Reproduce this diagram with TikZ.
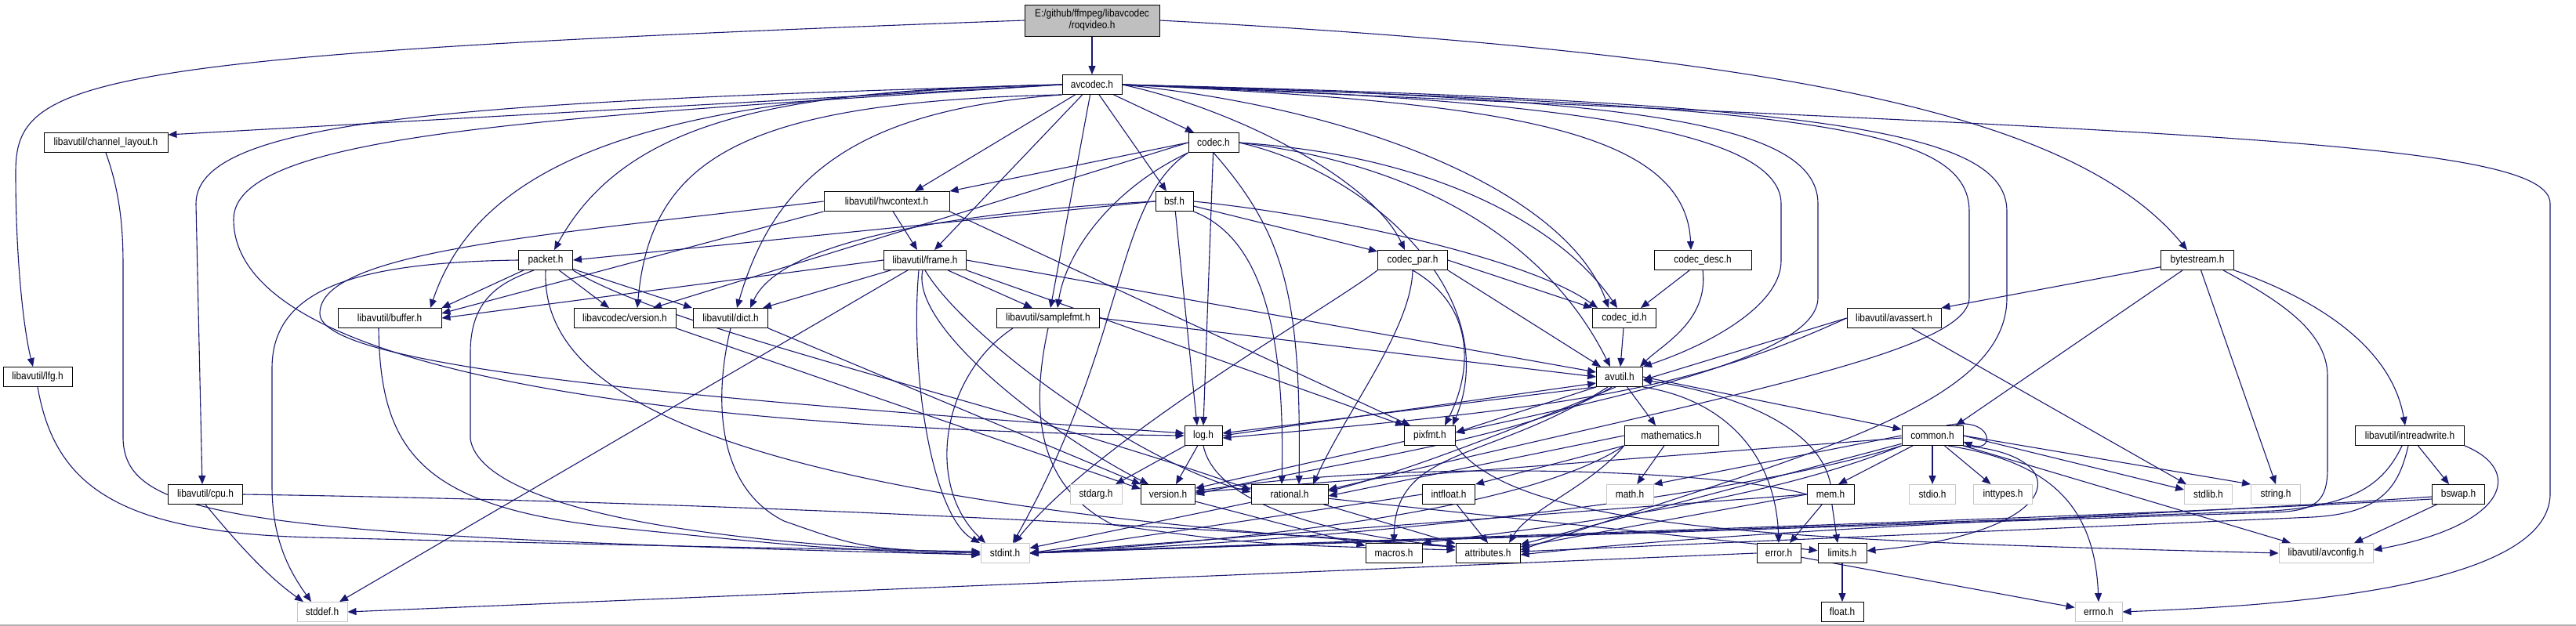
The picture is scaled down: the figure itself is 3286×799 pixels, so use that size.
\documentclass[tikz,border=0pt]{standalone}
\usepackage{fontspec}
\setmainfont{Liberation Sans}[FakeStretch=0.88]
\usetikzlibrary{arrows.meta}
\pgfdeclarelayer{background}
\pgfdeclarelayer{edges}
\pgfsetlayers{background,edges,main}
\definecolor{edgec}{HTML}{191970}
\definecolor{rootfill}{HTML}{BFBFBF}
\tikzset{
  box/.style={draw=black, line width=0.9pt, fill=white, minimum height=25pt, inner sep=0pt, font=\fontsize{13.5}{15}\selectfont},
  ext/.style={box, draw=black!22},
  rootbox/.style={box, fill=rootfill, minimum height=40pt, align=center},
  e/.style={draw=edgec, line width=1.1pt, -{Triangle[length=11pt,width=9pt]}},
}
\begin{document}
\begin{tikzpicture}[x=1pt,y=-1pt]
\useasboundingbox (0,0) rectangle (3286,799);
% nodes
\node[rootbox, minimum width=172pt] (root) at (1393,26) {E:/github/ffmpeg/libavcodec\\/roqvideo.h};
\node[box, minimum width=76pt] (avcodec) at (1393,108) {avcodec.h};
\node[box, minimum width=158pt] (chl) at (135,182) {libavutil/channel\_layout.h};
\node[box, minimum width=64pt] (codec) at (1548,182) {codec.h};
\node[box, minimum width=160pt] (hwc) at (1131,257) {libavutil/hwcontext.h};
\node[box, minimum width=48pt] (bsf) at (1498,257) {bsf.h};
\node[box, minimum width=69pt] (packet) at (696,332) {packet.h};
\node[box, minimum width=105pt] (frame) at (1180,332) {libavutil/frame.h};
\node[box, minimum width=89pt] (cpar) at (1802,332) {codec\_par.h};
\node[box, minimum width=124pt] (cdesc) at (2172,332) {codec\_desc.h};
\node[box, minimum width=93pt] (bytes) at (2803,332) {bytestream.h};
\node[box, minimum width=132pt] (buffer) at (497,406) {libavutil/buffer.h};
\node[box, minimum width=130pt] (lcver) at (797,406) {libavcodec/version.h};
\node[box, minimum width=95pt] (dict) at (932,406) {libavutil/dict.h};
\node[box, minimum width=131pt] (sfmt) at (1337,406) {libavutil/samplefmt.h};
\node[box, minimum width=81pt] (cid) at (2072,406) {codec\_id.h};
\node[box, minimum width=120pt] (avassert) at (2416,406) {libavutil/avassert.h};
\node[box, minimum width=88pt] (lfg) at (48,481) {libavutil/lfg.h};
\node[box, minimum width=59pt] (avutil) at (2066,481) {avutil.h};
\node[box, minimum width=48pt] (log) at (1535,556) {log.h};
\node[box, minimum width=65pt] (pixfmt) at (1824,556) {pixfmt.h};
\node[box, minimum width=120pt] (mathh) at (2132,556) {mathematics.h};
\node[box, minimum width=78pt] (common) at (2465,556) {common.h};
\node[box, minimum width=139pt] (irw) at (3074,556) {libavutil/intreadwrite.h};
\node[box, minimum width=95pt] (cpu) at (262,631) {libavutil/cpu.h};
\node[ext, minimum width=66pt] (stdarg) at (1398,631) {stdarg.h};
\node[box, minimum width=69pt] (version) at (1490,631) {version.h};
\node[box, minimum width=98pt] (rational) at (1645,631) {rational.h};
\node[box, minimum width=67pt] (intfloat) at (1848,631) {intfloat.h};
\node[ext, minimum width=60pt] (math) at (2079,631) {math.h};
\node[box, minimum width=60pt] (mem) at (2335,631) {mem.h};
\node[ext, minimum width=59pt] (stdio) at (2465,631) {stdio.h};
\node[ext, minimum width=75pt] (inttypes) at (2555,631) {inttypes.h};
\node[ext, minimum width=61pt] (stdlib) at (2817,631) {stdlib.h};
\node[ext, minimum width=63pt] (string) at (2903,631) {string.h};
\node[box, minimum width=67pt] (bswap) at (3136,631) {bswap.h};
\node[ext, minimum width=62pt] (stdint) at (1282,706) {stdint.h};
\node[box, minimum width=72pt] (macros) at (1778,706) {macros.h};
\node[box, minimum width=82pt] (attributes) at (1898,706) {attributes.h};
\node[box, minimum width=56pt] (error) at (2269,706) {error.h};
\node[box, minimum width=62pt] (limits) at (2350,706) {limits.h};
\node[ext, minimum width=120pt] (avconfig) at (2967,706) {libavutil/avconfig.h};
\node[ext, minimum width=64pt] (stddef) at (411,781) {stddef.h};
\node[box, minimum width=54pt] (float) at (2350,781) {float.h};
\node[ext, minimum width=60pt] (errno) at (2677,781) {errno.h};

\begin{pgfonlayer}{background}
\fill[white] (0,0) rectangle (3286,799);
\draw[black!30, line width=1.2pt] (0,798) -- (3286,798);
\end{pgfonlayer}

\begin{pgfonlayer}{edges}
% root
\draw[e] (root) -- (avcodec);
\draw[e] (root.west) .. controls (100,70) and (20,100) .. (20,220) .. controls (20,330) and (30,420) .. ([xshift=-6pt]lfg.north);
\draw[e] (root.east) .. controls (2300,70) and (2650,150) .. ([xshift=-13pt]bytes.north);
% avcodec
\draw[e] (avcodec.east) .. controls (2800,170) and (3253,180) .. (3253,260) -- (3253,630) .. controls (3253,760) and (2850,775) .. (errno.east);
\draw[e] (avcodec.west) -- ([yshift=10pt]chl.east);
\draw[e] (avcodec.west) .. controls (600,130) and (250,150) .. (250,260) -- ([xshift=-4pt]cpu.north);
\draw[e] (avcodec.west) .. controls (700,150) and (298,170) .. (298,280) .. controls (298,500) and (1000,550) .. (log.west);
\draw[e] (avcodec.west) .. controls (1000,115) and (800,150) .. ([xshift=11pt]packet.north);
\draw[e] (avcodec.west) .. controls (900,120) and (620,180) .. ([xshift=52pt]buffer.north);
\draw[e] (avcodec.south west) .. controls (950,130) and (830,200) .. ([xshift=16pt]lcver.north);
\draw[e] (avcodec.south west) .. controls (1100,140) and (990,220) .. ([xshift=8pt]dict.north);
\draw[e] (avcodec) -- ([xshift=36pt]hwc.north);
\draw[e] (avcodec) -- ([xshift=12pt]frame.north);
\draw[e] (avcodec) -- ([xshift=3pt]sfmt.north);
\draw[e] (avcodec) -- ([xshift=-10pt]bsf.north);
\draw[e] (avcodec) -- ([xshift=-25pt]codec.north);
\draw[e] (avcodec.east) .. controls (1580,140) and (1750,230) .. ([xshift=-10pt]cpar.north);
\draw[e] (avcodec.east) .. controls (1900,130) and (2150,160) .. ([xshift=-15pt]cdesc.north);
\draw[e] (avcodec.east) .. controls (1750,140) and (2000,250) .. ([xshift=-20pt]cid.north);
\draw[e] (avcodec.east) .. controls (1950,125) and (2272,160) .. (2272,260) -- (2272,333) .. controls (2272,390) and (2180,440) .. (avutil.north east);
\draw[e] (avcodec.east) .. controls (2050,125) and (2319,150) .. (2319,260) -- (2319,380) .. controls (2319,450) and (2100,500) .. ([yshift=4pt]pixfmt.east);
\draw[e] (avcodec.east) .. controls (2300,135) and (2512,160) .. (2512,270) -- (2512,380) .. controls (2512,450) and (2200,505) .. ([yshift=6pt]rational.east);
\draw[e] (avcodec.east) .. controls (2350,130) and (2560,170) .. (2560,270) -- (2560,380) .. controls (2560,520) and (2300,580) .. ([yshift=4pt]attributes.east);
% codec
\draw[e] (codec.west) -- (hwc.north east);
\draw[e] (codec.west) -- ([xshift=36pt]lcver.north);
\draw[e] (codec.south west) .. controls (1420,240) and (1360,320) .. ([xshift=12pt]sfmt.north);
\draw[e] (codec.south west) .. controls (1420,260) and (1440,430) .. ([xshift=10pt]stdint.north);
\draw[e] (codec) -- (log.north);
\draw[e] (codec.south) .. controls (1640,300) and (1660,380) .. ([xshift=12pt]rational.north);
\draw[e] (codec.east) .. controls (1750,220) and (1920,380) .. ([xshift=29pt]pixfmt.north);
\draw[e] (codec.east) .. controls (1850,200) and (2000,300) .. ([xshift=-9pt]cid.north);
\draw[e] (codec.east) .. controls (1900,220) and (2010,380) .. ([xshift=-12pt]avutil.north);
% bsf
\draw[e] (bsf.west) -- (packet.east);
\draw[e] (bsf.west) .. controls (1150,275) and (990,320) .. ([xshift=25pt]dict.north);
\draw[e] (bsf) -- ([xshift=-8pt]log.north);
\draw[e] (bsf.south east) .. controls (1600,300) and (1640,400) .. ([xshift=-10pt]rational.north);
\draw[e] (bsf) -- (cpar);
\draw[e] (bsf.east) .. controls (1700,275) and (1950,330) .. ([xshift=-34pt]cid.north);
% codec_par
\draw[e] (cpar.south west) .. controls (1700,390) and (1400,560) .. ([xshift=12pt]stdint.north);
\draw[e] (cpar.south east) -- ([xshift=-24pt]avutil.north);
\draw[e] (cpar.south) .. controls (1800,420) and (1720,520) .. ([xshift=30pt]rational.north);
\draw[e] (cpar.south) .. controls (1880,390) and (1880,470) .. ([xshift=19pt]pixfmt.north);
\draw[e] (cpar.east) -- (cid.north west);
% codec_desc, codec_id
\draw[e] (cdesc) -- ([xshift=21pt]cid.north);
\draw[e] (cdesc.south) .. controls (2180,410) and (2120,440) .. ([xshift=26pt]avutil.north);
\draw[e] (cid) -- (avutil);
% packet
\draw[e] (packet.west) .. controls (450,335) and (347,370) .. (347,470) -- (347,620) .. controls (347,690) and (370,730) .. ([xshift=-14pt]stddef.north);
\draw[e] ([xshift=-15pt]packet.south) .. controls (640,360) and (600,380) .. (600,450) -- (600,560) .. controls (610,630) and (800,690) .. (stdint.west);
\draw[e] (packet) -- (buffer.north east);
\draw[e] (packet.south) .. controls (690,500) and (900,640) .. ([yshift=8pt]attributes.west);
\draw[e] (packet) -- ([xshift=-49pt]dict.north);
\draw[e] (packet.south east) .. controls (850,420) and (1300,520) .. ([yshift=6pt]rational.west);
\draw[e] (packet) -- ([xshift=-20pt]lcver.north);
% hwcontext
\draw[e] (hwc.south west) -- ([yshift=6pt]buffer.east);
\draw[e] (hwc) -- ([xshift=-10pt]frame.north);
\draw[e] (hwc.west) .. controls (700,300) and (408,320) .. (408,400) .. controls (408,470) and (900,510) .. ([yshift=3pt]log.west);
\draw[e] (hwc.south east) -- ([xshift=-25pt]pixfmt.north);
% frame
\draw[e] (frame) -- ([xshift=22pt]stddef.north);
\draw[e] ([xshift=-8pt]frame.south) .. controls (1160,480) and (1190,660) .. ([xshift=-32pt]stdint.north);
\draw[e] (frame.east) -- ([yshift=6pt]avutil.west);
\draw[e] (frame.west) -- (buffer.east);
\draw[e] (frame) -- ([xshift=41pt]dict.north);
\draw[e] (frame.south) .. controls (1230,430) and (1450,590) .. ([yshift=3pt]rational.west);
\draw[e] (frame) -- ([xshift=-20pt]sfmt.north);
\draw[e] (frame.south east) -- (pixfmt.north west);
\draw[e] ([xshift=-3pt]frame.south) .. controls (1160,420) and (1350,560) .. ([xshift=10pt]version.north west);
% samplefmt
\draw[e] ([xshift=-45pt]sfmt.south) .. controls (1200,480) and (1180,620) .. ([xshift=-25pt]stdint.north);
\draw[e] (sfmt.east) -- (avutil.west);
\draw[e] (sfmt.south) .. controls (1315,520) and (1320,620) .. (1420,670) .. controls (1600,695) .. ([yshift=4pt]attributes.west);
% buffer, dict, lcver
\draw[e] ([xshift=-14pt]buffer.south) .. controls (485,580) and (540,650) .. (800,675) .. controls (1050,700) .. ([yshift=-2pt]stdint.west);
\draw[e] (dict.south) .. controls (912,500) and (910,620) .. (1000,665) .. controls (1100,700) .. (stdint.west);
\draw[e] (dict.south east) -- (version.north west);
\draw[e] (lcver.south east) -- ([yshift=-6pt]version.north west);
% log
\draw[e] (log) -- ([xshift=25pt]stdarg.north);
\draw[e] (log) -- ([xshift=10pt]version.north);
\draw[e] (log.south) .. controls (1550,640) and (1680,680) .. ([yshift=8pt]attributes.west);
\draw[e] (log.east) -- ([yshift=-8pt]avutil.west);
% avutil
\draw[e] (avutil.south west) -- ([yshift=3pt]log.east);
\draw[e] (avutil.south west) -- ([yshift=4pt]pixfmt.east);
\draw[e] (avutil) -- ([xshift=-20pt]mathh.north);
\draw[e] ([xshift=-10pt]avutil.south) .. controls (1950,560) and (1700,590) .. (version.east);
\draw[e] ([xshift=-5pt]avutil.south) .. controls (1950,540) and (1800,600) .. ([yshift=4pt]rational.east);
\draw[e] ([xshift=-15pt]avutil.south) .. controls (1900,590) and (1780,570) .. (macros.north);
\draw[e] (avutil.south east) .. controls (2200,510) and (2265,580) .. (error.north);
\draw[e] (avutil.east) -- ([yshift=8pt]common.west);
% mathematics
\draw[e] (mathh) -- (math);
\draw[e] (mathh.south west) .. controls (2030,620) and (1950,650) .. ([xshift=27pt]attributes.north);
\draw[e] (mathh.west) -- ([yshift=-2pt]rational.east);
\draw[e] (mathh.south west) .. controls (1950,650) and (1600,690) .. (stdint.east);
\draw[e] (mathh.south west) -- (intfloat.north east);
% common
\draw[e] (common) -- ([xshift=10pt]mem.north);
\draw[e] (common) -- (stdio);
\draw[e] (common) -- (inttypes);
\draw[e] ([xshift=20pt]common.south) .. controls (2620,590) and (2672,650) .. (errno.north);
\draw[e] (common.south east) .. controls (2650,580) and (2640,680) .. ([yshift=3pt]limits.east);
\draw[e] (common.west) -- (math.north east);
\draw[e] (common.south west) .. controls (2200,640) and (1700,690) .. (stdint.east);
\draw[e] (common.east) -- ([yshift=6pt]stdlib.west);
\draw[e] (common.east) -- (string.north west);
\draw[e] (common.south east) -- ([xshift=-45pt]avconfig.north);
\draw[e] (common) -- (attributes);
\draw[e] (common.south west) .. controls (2250,640) and (2000,670) .. (macros.north east);
\draw[e] (common) -- (version);
\draw[e] ([xshift=18pt]common.north) .. controls (2545,530) and (2545,580) .. ([yshift=-8pt]common.east);
% mem
\draw[e] (mem) -- ([xshift=14pt]error.north);
\draw[e] (mem) -- ([xshift=-6pt]limits.north);
\draw[e] (mem.north) .. controls (2320,540) and (2200,500) .. ([yshift=-4pt]avutil.east);
\draw[e] (mem.west) -- (stdint.east);
\draw[e] (mem.west) -- ([yshift=8pt]attributes.east);
\draw[e] (mem.west) .. controls (2200,600) and (1800,585) .. ([yshift=4pt]version.east);
% error, limits
\draw[e] (error) -- (errno);
\draw[e] (error.west) -- (stddef.east);
\draw[e] (limits) -- (float);
% rational, intfloat, version, pixfmt
\draw[e] (rational) -- (stdint);
\draw[e] (rational) -- (limits);
\draw[e] (rational) -- (attributes);
\draw[e] (intfloat.west) -- (stdint.east);
\draw[e] (intfloat) -- (attributes.north);
\draw[e] (version) -- (macros);
\draw[e] (pixfmt) -- (version);
\draw[e] (pixfmt.south east) .. controls (1940,680) and (2300,690) .. (avconfig.west);
% cpu, lfg, channel_layout
\draw[e] (cpu.south) .. controls (300,690) and (340,735) .. ([xshift=-24pt]stddef.north);
\draw[e] (cpu.east) .. controls (900,640) and (1500,670) .. ([yshift=8pt]attributes.west);
\draw[e] (lfg.south) .. controls (70,620) and (150,680) .. (400,686) .. controls (900,698) .. ([yshift=2pt]stdint.west);
\draw[e] (chl.south) .. controls (155,250) and (157,300) .. (157,340) -- (157,560) .. controls (160,660) and (300,685) .. ([yshift=-2pt]stdint.west);
% bytestream
\draw[e] (bytes) -- ([xshift=30pt]common.north);
\draw[e] (bytes) -- (avassert.north east);
\draw[e] (bytes) -- (string.north);
\draw[e] (bytes.south east) .. controls (2950,380) and (3050,440) .. ([xshift=-6pt]irw.north);
\draw[e] ([xshift=33pt]bytes.south) .. controls (2900,380) and (2969,420) .. (2969,480) -- (2969,597) .. controls (2969,640) and (2955,652) .. (2900,654) -- (stdint.east);
% avassert
\draw[e] (avassert) -- ([xshift=-28pt]stdlib.north);
\draw[e] (avassert.west) -- ([yshift=-4pt]avutil.east);
\draw[e] (avassert.west) .. controls (2150,500) and (2000,520) .. ([yshift=-3pt]log.east);
% intreadwrite, bswap
\draw[e] (irw) -- ([xshift=-12pt]bswap.north);
\draw[e] (irw.south east) .. controls (3220,600) and (3200,670) .. ([yshift=4pt]avconfig.east);
\draw[e] ([xshift=-10pt]irw.south) .. controls (3040,620) and (3000,645) .. (2900,652) -- (stdint.east);
\draw[e] ([xshift=-2pt]irw.south) .. controls (3060,620) and (3040,655) .. (2950,660) -- ([yshift=2pt]attributes.east);
\draw[e] (bswap) -- ([xshift=36pt]avconfig.north);
\draw[e] ([yshift=-6pt]bswap.west) .. controls (2700,660) and (2000,680) .. (stdint.east);
\draw[e] ([yshift=-3pt]bswap.west) .. controls (2700,662) and (2300,670) .. ([yshift=-2pt]attributes.east);
\end{pgfonlayer}
\end{tikzpicture}
\end{document}
